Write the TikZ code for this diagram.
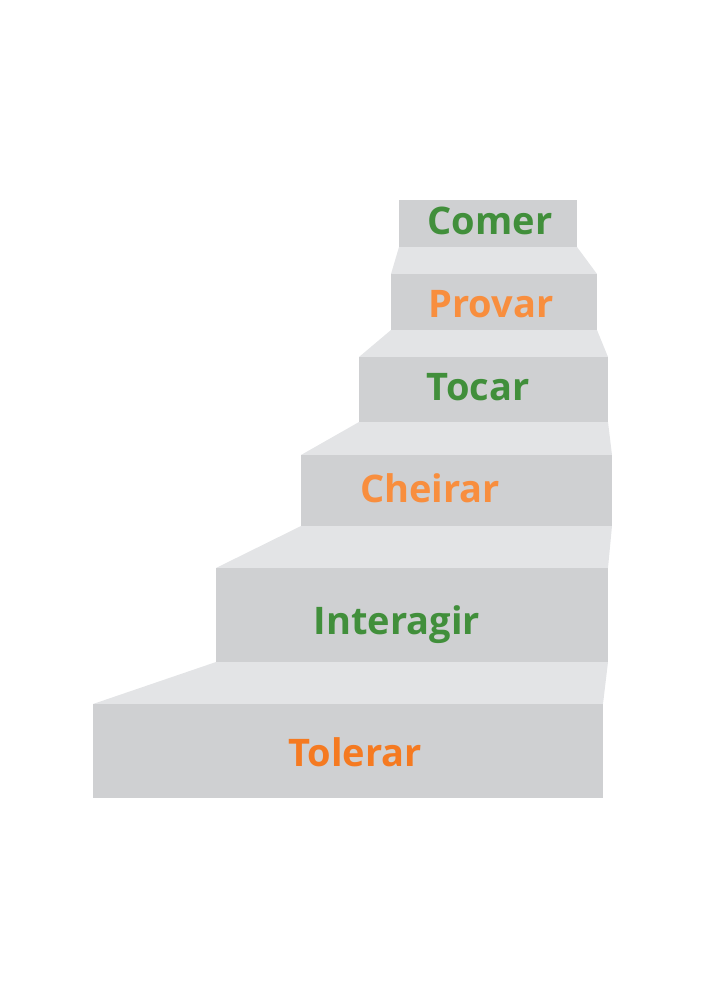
\documentclass[tikz,border=0pt]{standalone}
\usepackage{fontspec}
\setmainfont{Open Sans}
\definecolor{riser}{HTML}{CFD0D2}
\definecolor{treadgray}{HTML}{E3E4E6}
\definecolor{leafgreen}{HTML}{418F3B}
\definecolor{softorange}{HTML}{F88E3E}
\definecolor{deeporange}{HTML}{F57A21}
\begin{document}
\begin{tikzpicture}[x=1pt,y=-1pt,
    riserface/.style={fill=riser},
    treadface/.style={fill=treadgray},
    steplabel/.style={anchor=base,font=\bfseries\fontsize{38}{41}\selectfont,inner sep=0pt}]
\useasboundingbox (0,0) rectangle (707,1000);
% treads (top of each step)
\fill[treadface] (399,247) -- (577,247) -- (597,274) -- (391,274) -- cycle;
\fill[treadface] (391,330) -- (597,330) -- (608,357) -- (359,357) -- cycle;
\fill[treadface] (359,422) -- (608,422) -- (612,455) -- (301,455) -- cycle;
\fill[treadface] (301,526) -- (612,526) -- (608,568) -- (216,568) -- cycle;
\fill[treadface] (216,662) -- (608,662) -- (603,704) -- (93,704) -- cycle;
% risers
\fill[riserface] (399,200) rectangle (577,247);
\fill[riserface] (391,274) rectangle (597,330);
\fill[riserface] (359,357) rectangle (608,422);
\fill[riserface] (301,455) rectangle (612,526);
\fill[riserface] (216,568) rectangle (608,662);
\fill[riserface] (93,704) rectangle (603,798);
% labels
\node[steplabel,text=leafgreen] (comer) at (490,235) {Comer};
\node[steplabel,text=softorange] (provar) at (491,317) {Provar};
\node[steplabel,text=leafgreen] (tocar) at (478,400) {Tocar};
\node[steplabel,text=softorange] (cheirar) at (430,502) {Cheirar};
\node[steplabel,text=leafgreen] (interagir) at (397,634) {Interagir};
\node[steplabel,text=deeporange] (tolerar) at (355,766) {Tolerar};
\end{tikzpicture}
\end{document}
